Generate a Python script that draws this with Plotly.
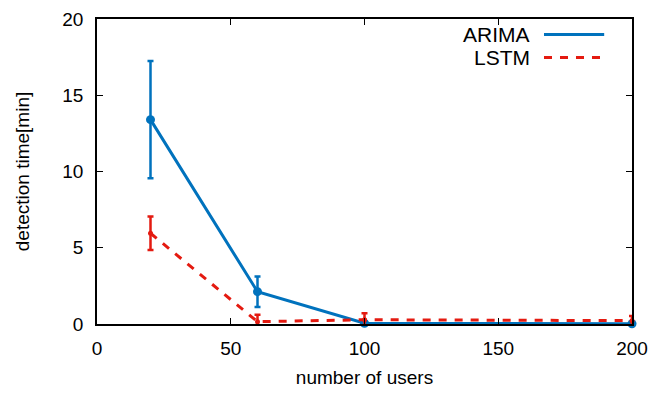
import plotly.graph_objects as go

users = [20, 60, 100, 200]
arima = [13.4, 2.12, 0.05, 0.02]
arima_err = [3.85, 1.0, 0.05, 0.03]
lstm = [5.95, 0.15, 0.28, 0.22]
lstm_err = [1.1, 0.45, 0.42, 0.3]

x_ticks = [0, 50, 100, 150, 200]
y_ticks = [0, 5, 10, 15, 20]

BLUE = "#0072bd"
RED = "#e41a10"
FONT = "Liberation Sans, Arial, sans-serif"
FS = 19
DASH = "8px,8px"

fig = go.Figure()
fig.add_trace(go.Scatter(
    x=users, y=arima, mode="lines+markers", name="ARIMA",
    line=dict(color=BLUE, width=3),
    marker=dict(color=BLUE, size=9, symbol="circle"),
    error_y=dict(type="data", array=arima_err, color=BLUE, thickness=2.5, width=3),
    showlegend=False, cliponaxis=False,
))
fig.add_trace(go.Scatter(
    x=users, y=lstm, mode="lines+markers", name="LSTM",
    line=dict(color=RED, width=3, dash=DASH),
    marker=dict(color=RED, size=5, symbol="circle"),
    error_y=dict(type="data", array=lstm_err, color=RED, thickness=2.5, width=3),
    showlegend=False, cliponaxis=False,
))

# gnuplot-style key: text right-aligned, sample to the right
key = [("ARIMA", BLUE, "solid", 0.949), ("LSTM", RED, DASH, 0.874)]
for name, col, dash, yp in key:
    fig.add_annotation(x=0.813, y=yp, xref="paper", yref="paper", text=name,
                       showarrow=False, xanchor="right", yanchor="middle",
                       font=dict(family=FONT, size=21, color="black"))
    fig.add_shape(type="line", xref="paper", yref="paper",
                  x0=0.8355, x1=0.948, y0=yp, y1=yp,
                  line=dict(color=col, width=3, dash=dash))

axis_common = dict(
    showline=True, linecolor="black", linewidth=1.5, mirror="ticks",
    ticks="inside", ticklen=6, tickwidth=1, tickcolor="black",
    showgrid=False, zeroline=False, automargin=False,
    tickfont=dict(family=FONT, size=FS, color="black"),
)
fig.update_xaxes(range=[0, 200], tickvals=x_ticks, ticklabelstandoff=6,
                 title=dict(text="number of users", font=dict(family=FONT, size=FS, color="black"), standoff=13),
                 **axis_common)
fig.update_yaxes(range=[0, 20], tickvals=y_ticks, ticklabelstandoff=8,
                 title=dict(text="detection time[min]", font=dict(family=FONT, size=FS, color="black"), standoff=28),
                 **axis_common)
fig.update_layout(
    width=652, height=393,
    margin=dict(l=97, r=20, t=19, b=69),
    plot_bgcolor="white", paper_bgcolor="white",
    font=dict(family=FONT, size=FS, color="black"),
)
fig.write_html("out.html")
